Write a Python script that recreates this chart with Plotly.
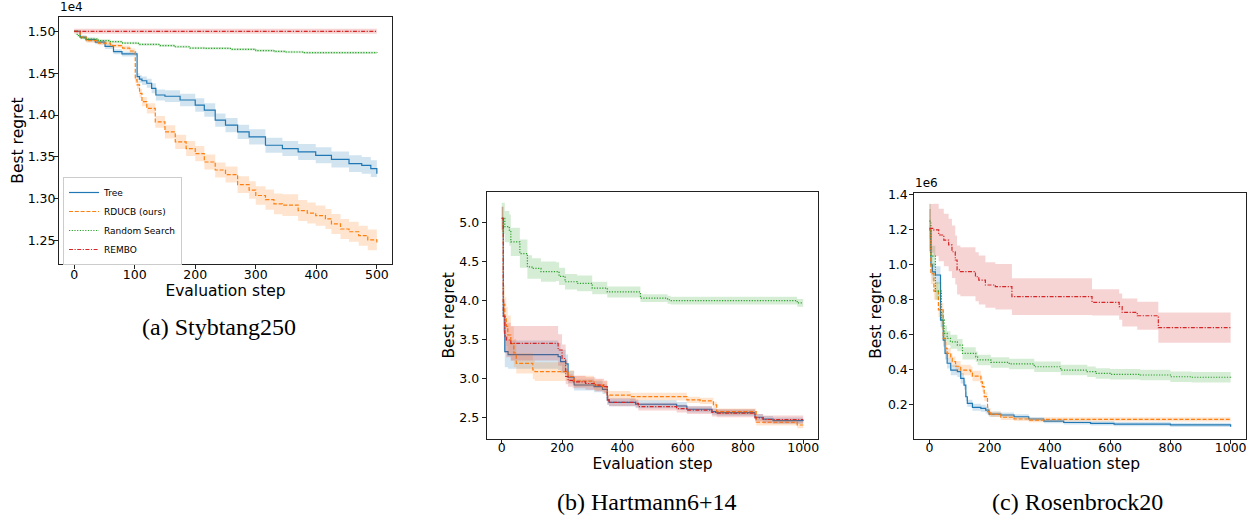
import plotly.graph_objects as go

W, H = 1250, 519

# ---------------- Panel (a) Stybtang250 ----------------
a_tree_x = [0, 10, 20, 35, 51, 65, 79, 104, 108, 112, 120, 128, 135, 150, 175, 200, 215, 233, 250, 270, 289, 316, 344, 370, 399, 425, 454, 475, 490, 500]
a_tree_y = [15000, 14930, 14900, 14870, 14820, 14757, 14730, 14460, 14430, 14410, 14380, 14320, 14240, 14225, 14180, 14120, 14060, 13940, 13880, 13800, 13740, 13640, 13600, 13560, 13520, 13470, 13420, 13400, 13360, 13300]
a_tree_s = [10, 20, 25, 25, 30, 30, 30, 40, 45, 50, 55, 60, 65, 70, 75, 80, 80, 80, 85, 85, 90, 90, 90, 95, 95, 95, 100, 100, 100, 100]

a_rducb_x = [0, 10, 20, 40, 60, 80, 92, 101, 104, 108, 112, 120, 134, 150, 167, 185, 200, 215, 233, 250, 270, 289, 300, 316, 330, 344, 370, 385, 399, 415, 425, 440, 454, 470, 485, 500]
a_rducb_y = [15000, 14930, 14890, 14860, 14830, 14800, 14765, 14420, 14360, 14260, 14160, 14080, 13920, 13800, 13680, 13600, 13540, 13440, 13344, 13290, 13170, 13105, 13040, 12990, 12940, 12926, 12860, 12830, 12800, 12760, 12700, 12640, 12607, 12560, 12510, 12480]
a_rducb_s = [10, 20, 25, 25, 25, 30, 30, 40, 45, 50, 55, 60, 70, 80, 85, 90, 90, 90, 90, 95, 100, 105, 110, 120, 125, 130, 125, 125, 120, 120, 120, 120, 120, 120, 125, 125]

a_rs_x = [0, 5, 10, 18, 40, 60, 80, 106, 140, 167, 190, 217, 258, 300, 330, 350, 380, 400, 500]
a_rs_y = [15000, 14950, 14920, 14908, 14890, 14876, 14860, 14844, 14830, 14816, 14800, 14797, 14785, 14770, 14760, 14753, 14745, 14745, 14741]
a_rs_s = [10, 15, 15, 15, 15, 15, 15, 15, 15, 15, 15, 15, 15, 15, 15, 15, 15, 15, 15]

a_rembo_x = [0, 500]
a_rembo_y = [15000, 15000]
a_rembo_s = [30, 30]

a_yticks = [12500, 13000, 13500, 14000, 14500, 15000]
a_yticklabels = ["1.25", "1.30", "1.35", "1.40", "1.45", "1.50"]
a_xticks = [0, 100, 200, 300, 400, 500]

# ---------------- Panel (b) Hartmann6+14 ----------------
b_tree_x = [0, 5, 10, 21, 187, 195, 212, 220, 240, 306, 334, 350, 356, 444, 580, 614, 697, 713, 840, 867, 900, 1000]
b_tree_y = [5.05, 3.80, 3.347, 3.31, 3.283, 3.22, 3.19, 3.02, 2.921, 2.90, 2.866, 2.73, 2.70, 2.675, 2.653, 2.611, 2.58, 2.568, 2.509, 2.484, 2.467, 2.465]
b_tree_s = [0.15, 0.2, 0.2, 0.18, 0.17, 0.15, 0.12, 0.08, 0.07, 0.07, 0.06, 0.06, 0.05, 0.05, 0.05, 0.04, 0.04, 0.04, 0.04, 0.04, 0.04, 0.04]

b_rducb_x = [0, 5, 10, 15, 20, 30, 40, 48, 103, 110, 215, 220, 240, 306, 334, 350, 356, 426, 614, 658, 702, 713, 840, 844, 980, 1000]
b_rducb_y = [5.05, 3.95, 3.794, 3.67, 3.56, 3.45, 3.33, 3.198, 3.113, 3.092, 3.08, 3.03, 2.97, 2.92, 2.90, 2.794, 2.793, 2.772, 2.73, 2.717, 2.666, 2.58, 2.58, 2.445, 2.41, 2.41]
b_rducb_s = [0.15, 0.25, 0.25, 0.25, 0.25, 0.22, 0.18, 0.13, 0.12, 0.12, 0.1, 0.08, 0.07, 0.07, 0.07, 0.06, 0.05, 0.05, 0.04, 0.04, 0.04, 0.04, 0.04, 0.04, 0.04, 0.04]

b_rs_x = [0, 10, 25, 30, 60, 85, 100, 130, 180, 190, 210, 250, 300, 350, 460, 550, 560, 980, 1000]
b_rs_y = [5.05, 4.945, 4.90, 4.75, 4.60, 4.43, 4.41, 4.37, 4.37, 4.31, 4.24, 4.22, 4.16, 4.11, 4.03, 4.01, 4.00, 3.97, 3.97]
b_rs_s = [0.2, 0.2, 0.2, 0.18, 0.18, 0.15, 0.13, 0.13, 0.12, 0.11, 0.1, 0.1, 0.08, 0.07, 0.05, 0.05, 0.05, 0.05, 0.05]

b_rembo_x = [0, 5, 10, 15, 30, 187, 200, 212, 220, 235, 278, 311, 339, 350, 356, 444, 453, 580, 614, 697, 713, 840, 867, 1000]
b_rembo_y = [5.05, 3.80, 3.55, 3.496, 3.454, 3.368, 3.26, 3.03, 2.98, 2.96, 2.94, 2.92, 2.90, 2.73, 2.70, 2.687, 2.644, 2.62, 2.60, 2.57, 2.56, 2.50, 2.48, 2.48]
b_rembo_s = [0.15, 0.22, 0.22, 0.22, 0.22, 0.2, 0.18, 0.1, 0.08, 0.08, 0.08, 0.08, 0.08, 0.06, 0.05, 0.05, 0.05, 0.05, 0.05, 0.05, 0.05, 0.05, 0.05, 0.05]

b_yticks = [2.5, 3.0, 3.5, 4.0, 4.5, 5.0]
b_yticklabels = ["2.5", "3.0", "3.5", "4.0", "4.5", "5.0"]
b_xticks = [0, 200, 400, 600, 800, 1000]

# ---------------- Panel (c) Rosenbrock20 ----------------
c_tree_x = [0, 5, 10, 20, 37, 46, 52, 59, 71, 93, 104, 115, 121, 126, 143, 171, 187, 198, 237, 281, 330, 380, 446, 535, 613, 800, 1000]
c_tree_y = [1.20e6, 1.00e6, 0.96e6, 0.942e6, 0.684e6, 0.57e6, 0.494e6, 0.437e6, 0.398e6, 0.389e6, 0.351e6, 0.3125e6, 0.2455e6, 0.208e6, 0.185e6, 0.179e6, 0.169e6, 0.146e6, 0.141e6, 0.131e6, 0.118e6, 0.106e6, 0.098e6, 0.093e6, 0.089e6, 0.084e6, 0.074e6]
c_tree_s = [0.12e6, 0.06e6, 0.05e6, 0.05e6, 0.04e6, 0.04e6, 0.035e6, 0.03e6, 0.03e6, 0.03e6, 0.03e6, 0.025e6, 0.025e6, 0.02e6, 0.02e6, 0.02e6, 0.02e6, 0.015e6, 0.015e6, 0.015e6, 0.012e6, 0.012e6, 0.012e6, 0.012e6, 0.012e6, 0.012e6, 0.012e6]

c_rducb_x = [0, 5, 15, 30, 46, 54, 59, 71, 76, 87, 104, 137, 143, 171, 176, 182, 193, 204, 237, 281, 330, 380, 1000]
c_rducb_y = [1.20e6, 0.95e6, 0.85e6, 0.742e6, 0.58e6, 0.522e6, 0.494e6, 0.465e6, 0.446e6, 0.42e6, 0.398e6, 0.389e6, 0.364e6, 0.331e6, 0.303e6, 0.246e6, 0.160e6, 0.145e6, 0.128e6, 0.118e6, 0.112e6, 0.116e6, 0.112e6]
c_rducb_s = [0.12e6, 0.06e6, 0.05e6, 0.04e6, 0.04e6, 0.035e6, 0.03e6, 0.03e6, 0.03e6, 0.03e6, 0.03e6, 0.03e6, 0.03e6, 0.03e6, 0.03e6, 0.025e6, 0.02e6, 0.015e6, 0.015e6, 0.012e6, 0.012e6, 0.012e6, 0.012e6]

c_rs_x = [0, 5, 20, 40, 49, 59, 70, 93, 110, 154, 160, 204, 259, 265, 348, 436, 524, 552, 600, 700, 800, 870, 1000]
c_rs_y = [1.25e6, 1.05e6, 0.85e6, 0.685e6, 0.608e6, 0.58e6, 0.56e6, 0.541e6, 0.494e6, 0.474e6, 0.456e6, 0.442e6, 0.442e6, 0.433e6, 0.417e6, 0.398e6, 0.389e6, 0.379e6, 0.374e6, 0.370e6, 0.360e6, 0.357e6, 0.351e6]
c_rs_s = [0.1e6, 0.06e6, 0.05e6, 0.05e6, 0.045e6, 0.04e6, 0.04e6, 0.035e6, 0.035e6, 0.03e6, 0.03e6, 0.03e6, 0.03e6, 0.03e6, 0.03e6, 0.03e6, 0.03e6, 0.03e6, 0.03e6, 0.03e6, 0.03e6, 0.03e6, 0.03e6]

c_rembo_x = [0, 14, 31, 48, 64, 75, 86, 92, 103, 153, 164, 186, 219, 274, 530, 540, 630, 640, 690, 760, 1000]
c_rembo_y = [1.209e6, 1.20e6, 1.171e6, 1.142e6, 1.114e6, 1.075e6, 1.028e6, 0.971e6, 0.961e6, 0.932e6, 0.913e6, 0.885e6, 0.875e6, 0.818e6, 0.818e6, 0.786e6, 0.761e6, 0.728e6, 0.709e6, 0.641e6, 0.637e6]
c_rembo_s = [0.14e6, 0.15e6, 0.15e6, 0.15e6, 0.15e6, 0.15e6, 0.14e6, 0.14e6, 0.14e6, 0.14e6, 0.14e6, 0.13e6, 0.13e6, 0.105e6, 0.105e6, 0.075e6, 0.075e6, 0.08e6, 0.08e6, 0.086e6, 0.086e6]

c_yticks = [0.2e6, 0.4e6, 0.6e6, 0.8e6, 1.0e6, 1.2e6, 1.4e6]
c_yticklabels = ["0.2", "0.4", "0.6", "0.8", "1.0", "1.2", "1.4"]
c_xticks = [0, 200, 400, 600, 800, 1000]

series_names = ["Tree", "RDUCB (ours)", "Random Search", "REMBO"]
series_colors = ["#1f77b4", "#ff7f0e", "#2ca02c", "#d62728"]
series_fills = ["rgba(31,119,180,0.2)", "rgba(255,127,14,0.2)", "rgba(44,160,44,0.2)", "rgba(214,39,40,0.2)"]
series_dash = ["solid", "4px,1.8px", "1.2px,1.5px", "4px,1.5px,1.2px,1.5px"]

fig = go.Figure()


def add_series(xs, ys, ss, idx, axis, legend):
    xa = "x" + axis
    ya = "y" + axis
    upper = [y + s for y, s in zip(ys, ss)]
    lower = [y - s for y, s in zip(ys, ss)]
    fig.add_trace(go.Scatter(x=xs, y=upper, mode="lines", line=dict(width=0, shape="hv"),
                             hoverinfo="skip", showlegend=False, xaxis=xa, yaxis=ya))
    fig.add_trace(go.Scatter(x=xs, y=lower, mode="lines", line=dict(width=0, shape="hv"),
                             fill="tonexty", fillcolor=series_fills[idx],
                             hoverinfo="skip", showlegend=False, xaxis=xa, yaxis=ya))
    fig.add_trace(go.Scatter(x=xs, y=ys, mode="lines", name=series_names[idx],
                             line=dict(color=series_colors[idx], width=1.2, dash=series_dash[idx], shape="hv"),
                             showlegend=legend, xaxis=xa, yaxis=ya))


panels = [
    ("", [(a_tree_x, a_tree_y, a_tree_s), (a_rducb_x, a_rducb_y, a_rducb_s),
          (a_rs_x, a_rs_y, a_rs_s), (a_rembo_x, a_rembo_y, a_rembo_s)], True),
    ("2", [(b_tree_x, b_tree_y, b_tree_s), (b_rducb_x, b_rducb_y, b_rducb_s),
           (b_rs_x, b_rs_y, b_rs_s), (b_rembo_x, b_rembo_y, b_rembo_s)], False),
    ("3", [(c_tree_x, c_tree_y, c_tree_s), (c_rducb_x, c_rducb_y, c_rducb_s),
           (c_rs_x, c_rs_y, c_rs_s), (c_rembo_x, c_rembo_y, c_rembo_s)], False),
]
for axis, sers, leg in panels:
    for i, (xs, ys, ss) in enumerate(sers):
        add_series(xs, ys, ss, i, axis, leg)


def px_x(p):
    return p / W


def px_y(p):
    return 1 - p / H


tickfont = dict(family="DejaVu Sans", size=12.5, color="#000")
titlefont = dict(family="DejaVu Sans", size=15.5, color="#000")
axis_common = dict(showgrid=False, zeroline=False, showline=True, linecolor="#222", linewidth=1,
                   mirror=True, ticks="outside", ticklen=4, tickwidth=1, tickcolor="#222",
                   tickfont=tickfont, automargin=False)

layout = dict(
    width=W, height=H, margin=dict(l=0, r=0, t=0, b=0, autoexpand=False),
    paper_bgcolor="white", plot_bgcolor="white", showlegend=True,
    legend=dict(x=px_x(63), y=px_y(177), xanchor="left", yanchor="top", traceorder="normal",
                font=dict(family="DejaVu Sans", size=9, color="#000"),
                bgcolor="rgba(255,255,255,0.85)", bordercolor="#cccccc", borderwidth=1,
                itemwidth=30, tracegroupgap=0),
    xaxis=dict(domain=[px_x(59), px_x(392)], range=[-25, 525], anchor="y", ticklabelstandoff=-5,
               tickvals=a_xticks, title=dict(text="Evaluation step", font=titlefont, standoff=0), **axis_common),
    yaxis=dict(domain=[px_y(264), px_y(17)], range=[12222, 15171], anchor="x", ticklabelstandoff=-4,
               tickvals=a_yticks, ticktext=a_yticklabels,
               title=dict(text="Best regret", font=titlefont, standoff=0), **axis_common),
    xaxis2=dict(domain=[px_x(486.7), px_x(818.3)], range=[-50, 1050], anchor="y2", ticklabelstandoff=-7,
                tickvals=b_xticks, title=dict(text="Evaluation step", font=titlefont, standoff=0), **axis_common),
    yaxis2=dict(domain=[px_y(438.7), px_y(192)], range=[2.235, 5.387], anchor="x2",
                tickvals=b_yticks, ticktext=b_yticklabels,
                title=dict(text="Best regret", font=titlefont, standoff=0), **axis_common),
    xaxis3=dict(domain=[px_x(914.3), px_x(1245.7)], range=[-50, 1050], anchor="y3", ticklabelstandoff=-7,
                tickvals=c_xticks, title=dict(text="Evaluation step", font=titlefont, standoff=0), **axis_common),
    yaxis3=dict(domain=[px_y(438.7), px_y(192.7)], range=[5400, 1413000], anchor="x3", ticklabelstandoff=-1,
                tickvals=c_yticks, ticktext=c_yticklabels,
                title=dict(text="Best regret", font=titlefont, standoff=2), **axis_common),
)
fig.update_layout(**layout)

capfont = dict(family="Liberation Serif", size=24, color="#000")
annots = [
    dict(text="1e4", x=px_x(58), y=px_y(16), xanchor="left", yanchor="bottom",
         font=dict(family="DejaVu Sans", size=12, color="#000")),
    dict(text="1e6", x=px_x(913), y=px_y(192), xanchor="left", yanchor="bottom",
         font=dict(family="DejaVu Sans", size=12, color="#000")),
    dict(text="(a) Stybtang250", x=px_x(219), y=px_y(327), xanchor="center", yanchor="middle", font=capfont),
    dict(text="(b) Hartmann6+14", x=px_x(647), y=px_y(502), xanchor="center", yanchor="middle", font=capfont),
    dict(text="(c) Rosenbrock20", x=px_x(1077), y=px_y(502), xanchor="center", yanchor="middle", font=capfont),
]
for a in annots:
    a.update(xref="paper", yref="paper", showarrow=False)
fig.update_layout(annotations=annots)

fig.write_html("out.html", config={"displayModeBar": False},
               post_script="document.body.style.margin='0px';document.body.style.overflow='hidden';")
